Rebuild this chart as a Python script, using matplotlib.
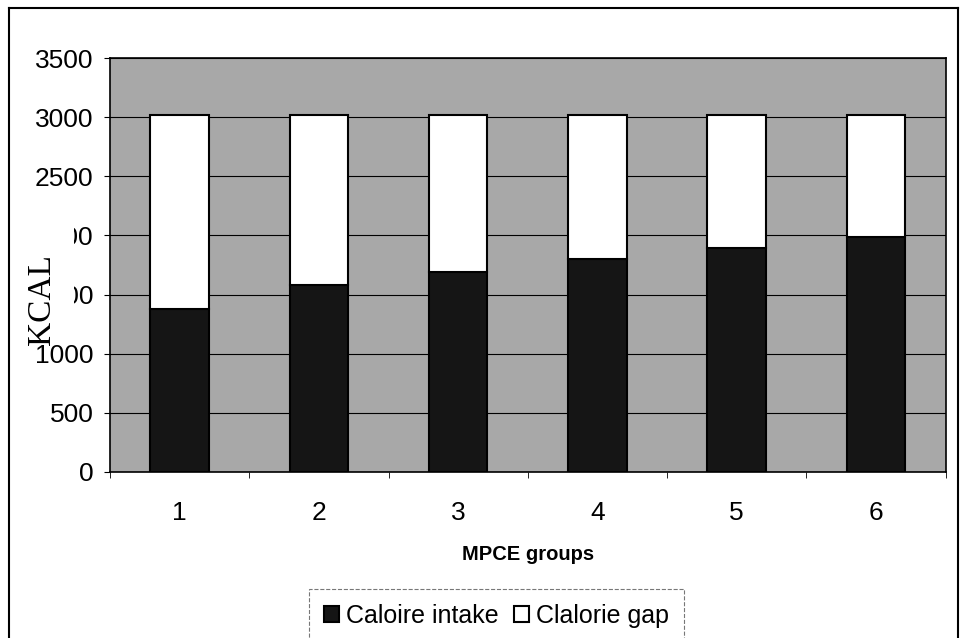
import matplotlib
matplotlib.use("Agg")
import matplotlib.pyplot as plt
from matplotlib.lines import Line2D
from matplotlib.patches import Rectangle
import numpy as np

groups = ["1", "2", "3", "4", "5", "6"]
intake = [1380, 1585, 1690, 1805, 1895, 1990]
gap = [1635, 1430, 1325, 1210, 1120, 1025]
yticks = [0, 500, 1000, 1500, 2000, 2500, 3000, 3500]

plt.rcParams["font.family"] = ["Liberation Sans", "DejaVu Sans"]

fig = plt.figure(figsize=(9.6, 6.38), dpi=100)
ax = fig.add_axes([0.1146, 0.2602, 0.8704, 0.6488])
ax.set_facecolor("#a8a8a8")

x = np.arange(len(groups))
w = 0.42
ax.bar(x, intake, w, color="#151515", edgecolor="black", linewidth=1.5,
       label="Caloire intake", zorder=3)
ax.bar(x, gap, w, bottom=intake, color="white", edgecolor="black",
       linewidth=1.5, label="Clalorie gap", zorder=3)

ax.set_xlim(-0.5, len(groups) - 0.5)
ax.set_ylim(0, 3500)
ax.set_yticks(yticks)
ax.set_yticklabels([str(v) for v in yticks], fontsize=19)
ax.set_xticks(x)
ax.set_xticklabels(groups, fontsize=19)
ax.set_xticks(np.arange(-0.5, len(groups)), minor=True)
ax.tick_params(axis="x", which="major", length=0, pad=21)
ax.tick_params(axis="x", which="minor", length=4, direction="out")
ax.tick_params(axis="y", length=4, direction="out", pad=8)
ax.grid(axis="y", color="black", linewidth=0.8, zorder=1)
for s in ax.spines.values():
    s.set_color("black")
    s.set_linewidth(1.2)

ax.set_xlabel("MPCE groups", fontsize=14.5, fontweight="bold", labelpad=14)

# the y label hides part of the tick labels behind a white patch, as in the original
fig.add_artist(Rectangle((14 / 960, 1 - 343 / 638), 60 / 960, 140 / 638,
                         transform=fig.transFigure, facecolor="white",
                         edgecolor="none", zorder=4))
fig.text(0.044, 1 - 300 / 638, "KCAL", rotation=90, ha="center", va="center",
         fontsize=24, family="Liberation Serif", zorder=5)

leg = fig.legend(loc="upper center", bbox_to_anchor=(0.517, 1 - 589 / 638),
                 ncol=2, fontsize=18, frameon=True, fancybox=False,
                 handlelength=0.6, handleheight=0.6, handletextpad=0.3,
                 columnspacing=0.6, borderpad=0.6, borderaxespad=0)
leg.get_frame().set_edgecolor("#555555")
leg.get_frame().set_linestyle("--")
leg.get_frame().set_linewidth(0.8)

# outer chart frame
fig.add_artist(Line2D([0.009, 0.009], [0.0, 0.988], color="black", lw=1.5))
fig.add_artist(Line2D([0.009, 0.998], [0.988, 0.988], color="black", lw=1.5))
fig.add_artist(Line2D([0.998, 0.998], [0.0, 0.988], color="black", lw=1.5))

fig.savefig("out.png", dpi=100)
